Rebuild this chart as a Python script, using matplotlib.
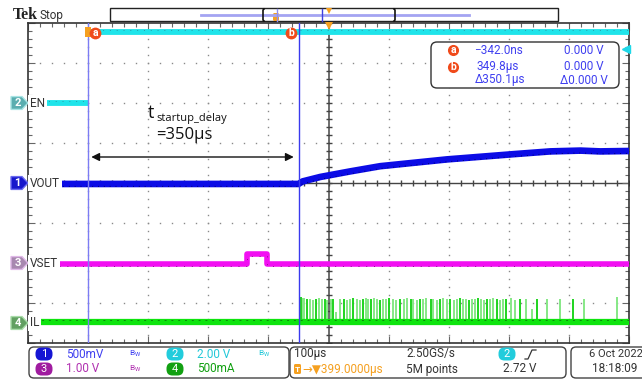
import numpy as np
import matplotlib.pyplot as plt
from matplotlib.patches import FancyBboxPatch, Rectangle, Polygon
from matplotlib.transforms import blended_transform_factory, offset_copy

plt.rcParams['font.family'] = ['Roboto', 'DejaVu Sans']

# scope settings
time_per_div = 100.0     # us/div
h_delay = 399.0          # us at screen centre
cursor_a = -0.342        # us
cursor_b = 349.8         # us
trig_level = 2.72        # V on CH2

# channel scale (unit/div) and position (div)
en_scale, en_pos = 2.0, 2.0
vout_scale, vout_pos = 0.5, 0.0
vset_scale, vset_pos = 1.0, -2.0
il_scale, il_pos = 0.5, -3.5

# CH2 EN
en_t = [-101, -0.4, -0.4, -0.3, 899]
en_v = [0.0, 0.0, np.nan, 3.55, 3.55]

# CH1 VOUT
vout_t = [-101, 349, 356, 385, 435, 485, 596, 706, 768, 818, 851, 899]
vout_v = [-0.012, -0.012, 0.02, 0.075, 0.145, 0.21, 0.295, 0.36, 0.395, 0.405, 0.395, 0.40]

# CH3 VSET
vset_t = [-101, 263, 263, 297, 297, 899]
vset_v = [-0.025, -0.025, 0.225, 0.225, -0.03, -0.03]

# CH4 IL
il_t = [-101, 899]
il_v = [0.012, 0.012]
spike_t = [353, 356, 359, 363, 368, 373, 379, 384, 389, 394, 397, 403, 406, 411, 418, 425,
           429, 435, 440, 447, 451, 456, 461, 465, 469, 475, 479, 484, 489, 495, 500, 506,
           511, 518, 524, 529, 536, 539, 546, 551, 557, 562, 569, 573, 579, 584, 590, 596,
           601, 607, 612, 618, 622, 628, 632, 638, 642, 648, 652, 658, 662, 668, 673, 679,
           684, 689, 695, 702, 709, 718, 728, 738, 746, 762, 784, 806, 824, 879]
spike_i = [0.32, 0.31, 0.31, 0.30, 0.30, 0.29, 0.30, 0.31, 0.30, 0.30, 0.29, 0.30, 0.30, 0.14, 0.30, 0.30,
           0.29, 0.30, 0.31, 0.30, 0.29, 0.30, 0.31, 0.30, 0.30, 0.31, 0.30, 0.29, 0.30, 0.30, 0.31, 0.30,
           0.29, 0.30, 0.30, 0.31, 0.30, 0.30, 0.29, 0.30, 0.30, 0.31, 0.30, 0.30, 0.29, 0.30, 0.31, 0.30,
           0.30, 0.29, 0.30, 0.31, 0.30, 0.30, 0.29, 0.30, 0.30, 0.31, 0.30, 0.29, 0.30, 0.30, 0.31, 0.30,
           0.29, 0.30, 0.30, 0.31, 0.29, 0.30, 0.30, 0.18, 0.30, 0.30, 0.30, 0.30, 0.30, 0.32]


def to_div(vals, scale, pos):
    return np.array(vals, dtype=float) / scale + pos


fig = plt.figure(figsize=(6.42, 3.79), dpi=100)
ax = fig.add_axes([28 / 642, 1 - 343 / 379, 601 / 642, 320 / 379], zorder=1)
t0 = h_delay - 5 * time_per_div
ax.set_xlim(t0, t0 + 10 * time_per_div)
ax.set_ylim(-4, 4)
for s in ax.spines.values():
    s.set_color('#333333')
    s.set_linewidth(1.2)
ax.set_xticks(np.arange(t0, t0 + 10 * time_per_div + 1, time_per_div))
ax.set_xticks(np.arange(t0, t0 + 10 * time_per_div + 1, time_per_div / 5), minor=True)
ax.set_yticks(np.arange(-4, 5, 1))
ax.set_yticks(np.arange(-4, 4.01, 0.2), minor=True)
ax.tick_params(which='both', direction='in', top=True, right=True, labelbottom=False,
               labelleft=False, color='#666666', width=0.8)
ax.tick_params(which='major', length=5)
ax.tick_params(which='minor', length=3)

# graticule dots
gx = [t0 + k * time_per_div for k in range(1, 10) if k != 5]
dots_y = np.arange(-4, 4.01, 0.2)
for x in gx:
    ax.plot(np.full(len(dots_y), x), dots_y, ls='none', marker='s', ms=1.0, mew=0, color='#8a8a8a', zorder=1)
dots_x = np.arange(t0, t0 + 10 * time_per_div + 1, time_per_div / 5)
for y in [-3, -2, -1, 1, 2, 3]:
    ax.plot(dots_x, np.full(len(dots_x), y), ls='none', marker='s', ms=1.0, mew=0, color='#8a8a8a', zorder=1)
# centre cross
ax.axhline(0, color='#444444', lw=1.0, zorder=1)
ax.axvline(h_delay, color='#555555', lw=1.2, zorder=1)
ax.plot(dots_x, np.zeros(len(dots_x)), ls='none', marker='|', ms=4, color='#444444', zorder=1)
ax.plot(np.full(len(dots_y), h_delay), dots_y, ls='none', marker='_', ms=4, color='#444444', zorder=1)

# traces
ax.plot(en_t, to_div(en_v, en_scale, en_pos), color='#1fe4ea', lw=4.2, solid_capstyle='butt', zorder=3)
ax.plot(en_t, to_div(en_v, en_scale, en_pos) + 0.05, color='#2a9aa8', lw=0.7, dashes=(1, 6), zorder=3)
ax.plot(vset_t, to_div(vset_v, vset_scale, vset_pos), color='#f20ff2', lw=4.0, solid_capstyle='butt', zorder=3)
ax.plot(vset_t, to_div(vset_v, vset_scale, vset_pos) - 0.05, color='#8a108a', lw=0.7, dashes=(1, 7), zorder=3)
ax.plot(il_t, to_div(il_v, il_scale, il_pos), color='#0ee40e', lw=4.5, solid_capstyle='butt', zorder=3)
ax.plot(il_t, to_div(il_v, il_scale, il_pos) + 0.04, color='#0a8a0a', lw=0.7, dashes=(2, 5), zorder=3)
spike_cols = ['#1fd41f' if k % 3 == 0 else '#86e886' for k in range(len(spike_t))]
ax.vlines(spike_t, il_pos, to_div(spike_i, il_scale, il_pos), colors=spike_cols, lw=1.4, zorder=2)
ax.plot(vout_t, to_div(vout_v, vout_scale, vout_pos), color='#0c0ce6', lw=4.8, solid_capstyle='butt', zorder=4)
ax.plot(vout_t, to_div(vout_v, vout_scale, vout_pos) - 0.06, color='#000070', lw=0.7, dashes=(1, 5), zorder=4)

# cursors
ax.axvline(cursor_a, color='#7c7cf4', lw=1.0, zorder=5)
ax.axvline(cursor_b, color='#3a3aee', lw=1.0, zorder=5)

# delay arrow
ax.annotate('', xy=(cursor_b - 4, 0.65), xytext=(cursor_a, 0.65),
            arrowprops=dict(arrowstyle='<|-|>', color='#111111', lw=1.0, mutation_scale=12), zorder=6)

# trigger level marker on right edge
ax.plot([t0 + 10 * time_per_div - 5], [en_pos + trig_level / en_scale], marker='<', ms=6,
        color='#1fd8e8', clip_on=False, zorder=6)

# overlay in pixel coordinates
ov = fig.add_axes([0, 0, 1, 1], zorder=5)
ov.set_xlim(0, 642)
ov.set_ylim(379, 0)
ov.axis('off')
bt = blended_transform_factory(ov.transData, ax.transData)   # x pixels, y div
tt = blended_transform_factory(ax.transData, ov.transData)   # x us, y pixels

# channel markers and labels
for num, pos, name, col, ecol in [('2', en_pos, 'EN', '#5aaeb0', '#a8e4e4'),
                                  ('1', vout_pos, 'VOUT', '#1818cc', '#6a6af0'),
                                  ('3', vset_pos, 'VSET', '#a888b0', '#e0b8e8'),
                                  ('4', il_pos, 'IL', '#62a062', '#a8dca8')]:
    ov.add_patch(Polygon([(11, pos + 0.16), (22, pos + 0.16), (28, pos), (22, pos - 0.16), (11, pos - 0.16)],
                         closed=True, fc=col, ec=ecol, lw=1.0, transform=bt))
    ov.text(17.5, pos, num, transform=bt, ha='center', va='center', color='white', fontsize=8, fontweight='bold')
    ov.text(30, pos, name, transform=bt, ha='left', va='center', color='#333333', fontsize=8.5,
            bbox=dict(boxstyle='square,pad=0.15', fc='white', ec='none'))

# cursor tags
ov.add_patch(Rectangle((-6, 27), 10, 10, transform=tt, fc='#f5a020', ec='none'))
for ct, dx, lab in [(cursor_a, 7, 'a'), (cursor_b, -8, 'b')]:
    tr = offset_copy(tt, fig=fig, x=dx, y=0, units='dots')
    ov.plot([ct], [32.5], transform=tr, marker='o', ms=8.5, color='#f04a1a', mew=0)
    ov.text(ct, 32.5, lab, transform=tr, ha='center', va='center', color='white', fontsize=7.5, fontweight='bold')
ov.plot([h_delay], [25.5], transform=tt, marker='v', ms=6, color='#f5a020', mew=0)

# annotation text
ov.text(148, 117.5, 't', fontsize=13, color='#111111', family=['Open Sans', 'DejaVu Sans'])
ov.text(156, 121, 'startup_delay', fontsize=8, color='#111111', family=['Open Sans', 'DejaVu Sans'])
ov.text(156, 139, '=350µs', fontsize=12, color='#111111', family=['Open Sans', 'DejaVu Sans'])

# cursor readout box
ov.add_patch(FancyBboxPatch((434, 45), 182, 40, boxstyle='round,pad=3,rounding_size=6',
                            fc='white', ec='#333333', lw=1.0))
rd = '#4040f0'
for y, lab, t_txt, v_txt in [(50, 'a', '−342.0ns', '0.000 V'), (66.5, 'b', '349.8µs', '0.000 V')]:
    ov.plot([453], [y], marker='o', ms=8, color='#f04a1a', mew=0)
    ov.text(453, y, lab, ha='center', va='center', color='white', fontsize=7.5, fontweight='bold')
    ov.text(498, y, t_txt, ha='center', va='center', color=rd, fontsize=8.5)
    ov.text(584, y, v_txt, ha='center', va='center', color=rd, fontsize=8.5)
ov.text(500, 80, 'Δ350.1µs', ha='center', va='center', color=rd, fontsize=8.5)
ov.text(584, 80, 'Δ0.000 V', ha='center', va='center', color=rd, fontsize=8.5)

# top bar
ov.text(13, 19, 'Tek', fontsize=11.5, fontweight='bold', family=['Liberation Serif', 'DejaVu Serif'],
        color='#222222')
ov.text(40, 19, 'Stop', fontsize=8.5, color='#333333')
ov.add_patch(Rectangle((110, 8), 448, 13, fc='white', ec='#222222', lw=1.0))
ov.plot([201, 469], [15, 15], color='#a4a4f2', lw=2)
ov.plot([277, 277], [9, 21], color='#9090f0', lw=1)
ov.plot([322, 322], [9, 21], color='#4040e0', lw=1)
ov.plot([264, 263, 263, 264], [9, 10, 20, 21], color='#111111', lw=1.2)
ov.plot([394, 395, 395, 394], [9, 10, 20, 21], color='#111111', lw=1.2)
ov.add_patch(FancyBboxPatch((274, 14), 4, 6, boxstyle='round,pad=1,rounding_size=1.5', fc='#f5a020', ec='none'))
ov.plot([329], [10.5], marker='v', ms=5, color='#f5a020', mew=0)


# bottom info panel
def pill(x, y, num, col):
    ov.add_patch(FancyBboxPatch((x - 6, y - 4), 12, 8, boxstyle='round,pad=2.5,rounding_size=6',
                                fc=col, ec='none'))
    ov.text(x, y, num, ha='center', va='center', color='white', fontsize=8)


for x0, w in [(31, 256), (292, 272), (573, 90)]:
    ov.add_patch(FancyBboxPatch((x0, 349), w, 27, boxstyle='round,pad=2,rounding_size=5',
                                fc='white', ec='#444444', lw=1.0))

pill(44, 354, '1', '#1515d4')
pill(44, 369, '3', '#a01ca0')
pill(175, 354, '2', '#22ccdc')
pill(175, 369, '4', '#12a012')
ov.text(66, 354, '500mV', va='center', color='#4040f0', fontsize=8.5)
ov.text(66, 369, '1.00 V', va='center', color='#b030b0', fontsize=8.5)
ov.text(197, 354, '2.00 V', va='center', color='#22c8d8', fontsize=8.5)
ov.text(197, 369, '500mA', va='center', color='#12a012', fontsize=8.5)
ov.text(129, 354, r'$\mathregular{B_W}$', va='center', color='#4040f0', fontsize=6)
ov.text(129, 369, r'$\mathregular{B_W}$', va='center', color='#b030b0', fontsize=6)
ov.text(258, 354, r'$\mathregular{B_W}$', va='center', color='#22c8d8', fontsize=6)

ov.text(294, 354, '100µs', va='center', color='#333333', fontsize=8.5)
ov.text(406, 354, '2.50GS/s', va='center', color='#333333', fontsize=8.5)
pill(507, 354, '2', '#22ccdc')
ov.plot([525, 528, 532, 536], [359, 359, 350, 350], color='#333333', lw=0.9)
ov.add_patch(FancyBboxPatch((295, 365), 5, 8, boxstyle='round,pad=1,rounding_size=1.5', fc='#f5a020', ec='none'))
ov.text(297.5, 369.5, 'T', ha='center', va='center', color='white', fontsize=6, fontweight='bold')
ov.text(302, 369, '→▼399.0000µs', va='center', color='#f5a020', fontsize=8.5)
ov.text(406, 369, '5M points', va='center', color='#333333', fontsize=8.5)
ov.text(503, 369, '2.72 V', va='center', color='#333333', fontsize=8.5)
ov.text(589, 354, '6 Oct 2022', va='center', color='#333333', fontsize=8)
ov.text(592, 369, '18:18:09', va='center', color='#333333', fontsize=8.5)

fig.savefig('out.png', dpi=100)
